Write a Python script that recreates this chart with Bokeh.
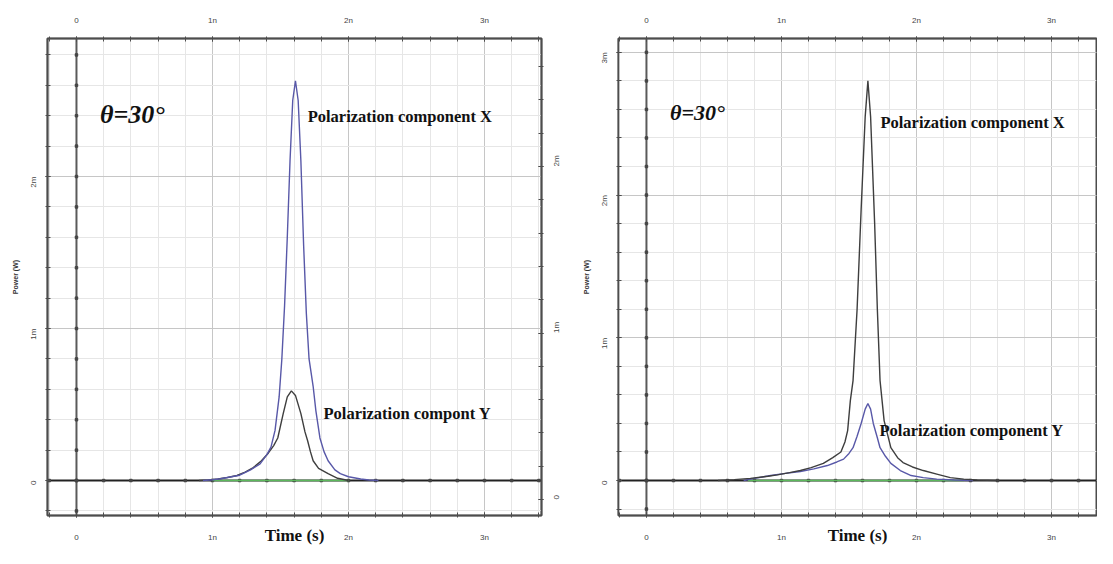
import math
import numpy as np
from bokeh.plotting import figure
from bokeh.models import Range1d, LinearAxis, FixedTicker, Span, Label
from bokeh.layouts import row
from bokeh.embed import file_html
from bokeh.resources import INLINE

# ---------------- data (time in ns, power in mW) ----------------
x_tick_vals = [0, 1, 2, 3]
x_tick_text = ["0", "1n", "2n", "3n"]
y_tick_vals_left = [0, 1, 2]
y_tick_text_left = ["0", "1m", "2m"]
y_tick_vals_right = [0, 1, 2, 3]
y_tick_text_right = ["0", "1m", "2m", "3m"]

# Left panel: polarization component X (blue)
L_x_t = [0.93, 1.00, 1.06, 1.12, 1.20, 1.28, 1.35, 1.40, 1.43, 1.46, 1.49, 1.51, 1.53, 1.55,
         1.57, 1.59, 1.61, 1.63, 1.65, 1.67, 1.69, 1.71, 1.74, 1.76, 1.79, 1.82, 1.85, 1.90,
         1.94, 2.00, 2.09, 2.15, 2.22]
L_x_p = [0.0, 0.005, 0.012, 0.022, 0.035, 0.07, 0.11, 0.17, 0.22, 0.33, 0.55, 0.80, 1.15, 1.60,
         2.10, 2.50, 2.63, 2.50, 2.10, 1.55, 1.10, 0.80, 0.62, 0.46, 0.28, 0.19, 0.13, 0.07,
         0.045, 0.025, 0.01, 0.004, 0.0]
# Left panel: polarization component Y (dark)
L_y_t = [0.90, 0.97, 1.04, 1.11, 1.18, 1.24, 1.30, 1.36, 1.41, 1.45, 1.48, 1.52, 1.55, 1.58,
         1.61, 1.65, 1.68, 1.70, 1.72, 1.74, 1.78, 1.85, 1.92, 2.00]
L_y_p = [0.0, 0.004, 0.01, 0.02, 0.033, 0.055, 0.085, 0.13, 0.18, 0.23, 0.28, 0.44, 0.55, 0.59,
         0.56, 0.44, 0.32, 0.26, 0.19, 0.13, 0.08, 0.045, 0.015, 0.0]
L_g_t = [1.0, 2.0]
L_g_p = [0.0, 0.0]

# Right panel: polarization component X (dark)
R_x_t = [0.53, 0.65, 0.77, 0.90, 0.97, 1.06, 1.14, 1.22, 1.31, 1.38, 1.44, 1.47, 1.49, 1.51,
         1.53, 1.56, 1.59, 1.62, 1.64, 1.66, 1.69, 1.71, 1.73, 1.76, 1.81, 1.86, 1.90, 1.97,
         2.05, 2.15, 2.25, 2.35, 2.45, 2.60]
R_x_p = [0.0, 0.006, 0.015, 0.03, 0.04, 0.055, 0.07, 0.09, 0.12, 0.16, 0.20, 0.27, 0.35, 0.56,
         0.70, 1.20, 1.90, 2.55, 2.80, 2.55, 1.80, 1.20, 0.70, 0.42, 0.23, 0.16, 0.126, 0.095,
         0.07, 0.045, 0.02, 0.01, 0.004, 0.0]
# Right panel: polarization component Y (blue)
R_y_t = [0.72, 0.80, 0.92, 1.03, 1.14, 1.24, 1.34, 1.41, 1.46, 1.50, 1.53, 1.56, 1.59, 1.62,
         1.64, 1.66, 1.68, 1.71, 1.73, 1.77, 1.81, 1.88, 1.96, 2.05, 2.15, 2.28, 2.42]
R_y_p = [0.0, 0.015, 0.035, 0.05, 0.063, 0.082, 0.105, 0.13, 0.15, 0.19, 0.23, 0.31, 0.40, 0.50,
         0.54, 0.50, 0.40, 0.30, 0.23, 0.17, 0.12, 0.07, 0.035, 0.02, 0.01, 0.004, 0.0]
R_g_t = [0.75, 2.35]
R_g_p = [0.0, 0.0]

BLUE = "#5858a8"
DARK = "#3e3e3e"
GREEN = "#5cb85c"
FRAME = "#4d4d4d"
SERIF = "Liberation Serif"
SANS = "Liberation Sans"


def style_axis(ax, ticker, overrides, standoff, vertical=False):
    ax.ticker = ticker
    ax.major_label_overrides = overrides
    ax.major_label_text_font = SANS
    ax.major_label_text_font_size = "8px"
    ax.major_label_text_color = "#444444"
    ax.major_label_standoff = standoff
    ax.axis_line_color = FRAME
    ax.axis_line_width = 1.5
    ax.major_tick_line_color = FRAME
    ax.major_tick_in = 3
    ax.major_tick_out = 2
    ax.minor_tick_line_color = FRAME
    ax.minor_tick_in = 3
    ax.minor_tick_out = 2
    if vertical:
        ax.major_label_orientation = math.pi / 2


def make_panel(width, xr, yr, yvals, ytext, mb_left, mb_right):
    p = figure(width=width, height=548, x_range=Range1d(*xr), y_range=Range1d(*yr),
               output_backend="svg", toolbar_location=None,
               min_border_left=mb_left, min_border_right=mb_right,
               min_border_top=38, min_border_bottom=33)
    p.background_fill_color = "white"
    p.border_fill_color = "white"
    p.outline_line_color = FRAME
    p.outline_line_width = 2

    xmin = np.arange(-0.2, xr[1] + 0.01, 0.2).round(2).tolist()
    ymin = np.arange(-0.2, yr[1] + 0.01, 0.2).round(2).tolist()
    xt = FixedTicker(ticks=x_tick_vals, minor_ticks=xmin)
    yt = FixedTicker(ticks=yvals, minor_ticks=ymin)
    xo = dict(zip(x_tick_vals, x_tick_text))
    yo = dict(zip(yvals, ytext))

    bx = p.xaxis[0]
    style_axis(bx, xt, xo, 15)
    bx.axis_label = "Time (s)"
    bx.axis_label_text_font = SERIF
    bx.axis_label_text_font_size = "17px"
    bx.axis_label_text_font_style = "bold"
    bx.axis_label_text_color = "#111111"
    bx.axis_label_standoff = -19

    top = LinearAxis()
    style_axis(top, FixedTicker(ticks=x_tick_vals, minor_ticks=xmin), xo, 12)
    p.add_layout(top, "above")

    ly = p.yaxis[0]
    style_axis(ly, yt, yo, 12, vertical=True)
    ly.axis_label = "Power (W)"
    ly.axis_label_text_font = SANS
    ly.axis_label_text_font_size = "7px"
    ly.axis_label_text_font_style = "bold"
    ly.axis_label_text_color = "#333333"
    ly.axis_label_standoff = 3

    for g, t in ((p.xgrid[0], xt), (p.ygrid[0], yt)):
        g.ticker = t
        g.grid_line_color = "#c6c6c6"
        g.grid_line_width = 1
        g.minor_grid_line_color = "#e6e6e6"
        g.minor_grid_line_width = 1

    p.add_layout(Span(location=0, dimension="height", line_color="#5a5a5a",
                      line_width=2, level="underlay"))
    p.add_layout(Span(location=0, dimension="width", line_color="#222222",
                      line_width=2, level="underlay"))
    # tick dots on the zero lines
    p.scatter([0.0] * len(ymin), ymin, marker="square", size=2.5, color="#444444")
    p.scatter(xmin, [0.0] * len(xmin), marker="square", size=2.5, color="#444444")
    return p


# ---------------- left panel ----------------
p1 = make_panel(568, (-0.213, 3.419), (-0.230, 2.908), y_tick_vals_left, y_tick_text_left, 47, 27)
p1.extra_y_ranges = {"right": Range1d(-0.096, 2.769)}
rax = LinearAxis(y_range_name="right")
style_axis(rax, FixedTicker(ticks=y_tick_vals_left,
                            minor_ticks=np.arange(0, 2.8, 0.2).round(2).tolist()),
           dict(zip(y_tick_vals_left, y_tick_text_left)), 13, vertical=True)
p1.add_layout(rax, "right")

p1.line(L_g_t, L_g_p, line_color=GREEN, line_width=1.5)
p1.line(L_y_t, L_y_p, line_color=DARK, line_width=1.4)
p1.line(L_x_t, L_x_p, line_color=BLUE, line_width=1.4)

p1.add_layout(Label(x=0.41, y=2.41, text="θ=30°", text_font=SERIF, text_font_size="26px",
                    text_font_style="bold italic", text_align="center",
                    text_baseline="middle", text_color="#111111"))
p1.add_layout(Label(x=1.70, y=2.395, text="Polarization component X", text_font=SERIF,
                    text_font_size="16.5px", text_font_style="bold", text_align="left",
                    text_baseline="middle", text_color="#111111"))
p1.add_layout(Label(x=1.816, y=0.44, text="Polarization compont Y", text_font=SERIF,
                    text_font_size="16.5px", text_font_style="bold", text_align="left",
                    text_baseline="middle", text_color="#111111"))

# ---------------- right panel ----------------
p2 = make_panel(529, (-0.207, 3.333), (-0.245, 3.097), y_tick_vals_right, y_tick_text_right, 50, 1)

p2.line(R_g_t, R_g_p, line_color=GREEN, line_width=1.5)
p2.line(R_y_t, R_y_p, line_color=BLUE, line_width=1.4)
p2.line(R_x_t, R_x_p, line_color=DARK, line_width=1.4)

p2.add_layout(Label(x=0.378, y=2.58, text="θ=30°", text_font=SERIF, text_font_size="22px",
                    text_font_style="bold italic", text_align="center",
                    text_baseline="middle", text_color="#111111"))
p2.add_layout(Label(x=1.733, y=2.51, text="Polarization component X", text_font=SERIF,
                    text_font_size="16.5px", text_font_style="bold", text_align="left",
                    text_baseline="middle", text_color="#111111"))
p2.add_layout(Label(x=1.726, y=0.35, text="Polarization component Y", text_font=SERIF,
                    text_font_size="16.5px", text_font_style="bold", text_align="left",
                    text_baseline="middle", text_color="#111111"))

layout = row(p1, p2)
open("out.html", "w").write(file_html(layout, INLINE))
